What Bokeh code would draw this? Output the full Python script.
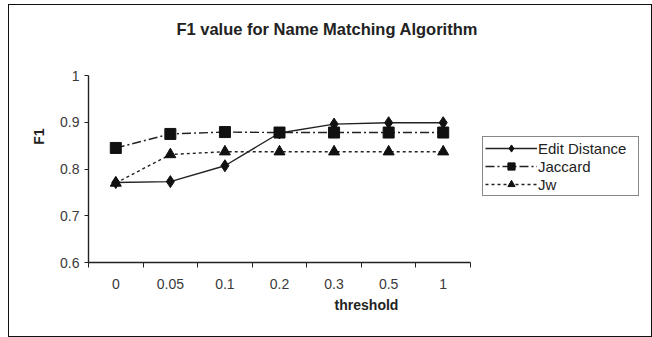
from bokeh.plotting import figure
from bokeh.models import Range1d, FixedTicker, Legend, LegendItem, Label
from bokeh.embed import file_html
from bokeh.resources import INLINE

thresholds = ["0", "0.05", "0.1", "0.2", "0.3", "0.5", "1"]
edit_distance = [0.771, 0.773, 0.807, 0.877, 0.896, 0.899, 0.899]
jaccard = [0.845, 0.875, 0.879, 0.878, 0.878, 0.878, 0.878]
jw = [0.770, 0.831, 0.837, 0.837, 0.837, 0.837, 0.837]
y_ticks = [0.6, 0.7, 0.8, 0.9, 1.0]
y_labels = ["0.6", "0.7", "0.8", "0.9", "1"]
y_min, y_max = 0.6, 1.0

n = len(thresholds)
xs = [i + 0.5 for i in range(n)]
FONT = "Liberation Sans"

# layout (pixels)
W, H = 644, 333
left, right, top, bottom = 79, 9, 5, 76
frame_w = W - left - right
frame_h = H - top - bottom
axis_len_px = 382          # width of the category axis
val_len_px = 187           # height of the 0.6..1 value axis
x_end = n * frame_w / axis_len_px
y_end = y_min + (y_max - y_min) * frame_h / val_len_px

p = figure(width=W, height=H, output_backend="svg", toolbar_location=None,
           x_range=Range1d(0, x_end), y_range=Range1d(y_min, y_end),
           min_border_left=left, min_border_right=right, min_border_top=top,
           min_border_bottom=bottom)
p.margin = (4, 0, 0, 8)
p.styles = {"border": "1.5px solid #111111"}
p.outline_line_color = None
p.grid.grid_line_color = None
p.background_fill_color = "white"
p.border_fill_color = "white"

# axes
p.xaxis.bounds = (0, n)
p.yaxis.bounds = (y_min, y_max)
p.xaxis.ticker = FixedTicker(ticks=xs, minor_ticks=list(range(n + 1)))
p.xaxis.major_label_overrides = {x: t for x, t in zip(xs, thresholds)}
p.xaxis.major_tick_out = 0
p.xaxis.major_tick_in = 0
p.xaxis.minor_tick_out = 5
p.xaxis.minor_tick_in = 0
p.xaxis.axis_label = "threshold"
p.yaxis.ticker = FixedTicker(ticks=y_ticks, minor_ticks=[])
p.yaxis.major_label_overrides = {v: l for v, l in zip(y_ticks, y_labels)}
p.yaxis.major_tick_out = 4
p.yaxis.major_tick_in = 0
p.yaxis.minor_tick_out = 0
p.yaxis.axis_label = "F1"
for ax in (p.xaxis, p.yaxis):
    ax.axis_line_color = "#222222"
    ax.axis_line_width = 1.4
    ax.major_tick_line_color = "#222222"
    ax.minor_tick_line_color = "#222222"
    ax.major_label_text_font = FONT
    ax.major_label_text_font_size = "14px"
    ax.major_label_text_color = "#3a3a3a"
    ax.axis_label_text_font = FONT
    ax.axis_label_text_font_size = "14px"
    ax.axis_label_text_font_style = "bold"
    ax.axis_label_text_color = "#222222"
p.xaxis.major_label_standoff = 11
p.xaxis.axis_label_standoff = 5
p.yaxis.major_label_standoff = 5
p.yaxis.axis_label_standoff = 10

# series
l1 = p.line(xs, edit_distance, line_color="#222222", line_width=1.4)
s1 = p.scatter(xs, edit_distance, marker="diamond", size=12, color="#111111")
l2 = p.line(xs, jaccard, line_color="#222222", line_width=1.4, line_dash="9 3 2 3")
s2 = p.scatter(xs, jaccard, marker="square", size=11, color="#111111")
l3 = p.line(xs, jw, line_color="#222222", line_width=1.4, line_dash="3 3")
s3 = p.scatter(xs, jw, marker="triangle", size=11, color="#111111")

legend = Legend(items=[
    LegendItem(label="Edit Distance", renderers=[l1, s1]),
    LegendItem(label="Jaccard", renderers=[l2, s2]),
    LegendItem(label="Jw", renderers=[l3, s3]),
], location=(394, 66))
legend.border_line_color = "#111111"
legend.border_line_width = 1.4
legend.padding = 2
legend.spacing = 0
legend.margin = 0
legend.glyph_width = 52
legend.glyph_height = 18
legend.label_height = 18
legend.label_standoff = 1
legend.label_text_font = FONT
legend.label_text_font_size = "15px"
legend.label_text_color = "#222222"
legend.label_width = 98
p.add_layout(legend, "center")

title = Label(x=241, y=234, x_units="screen", y_units="screen",
              text="F1 value  for Name Matching Algorithm",
              text_font=FONT, text_font_size="16.5px", text_font_style="bold",
              text_align="center", text_baseline="middle", text_color="#222222")
p.add_layout(title)

open("out.html", "w").write(file_html(p, INLINE))
